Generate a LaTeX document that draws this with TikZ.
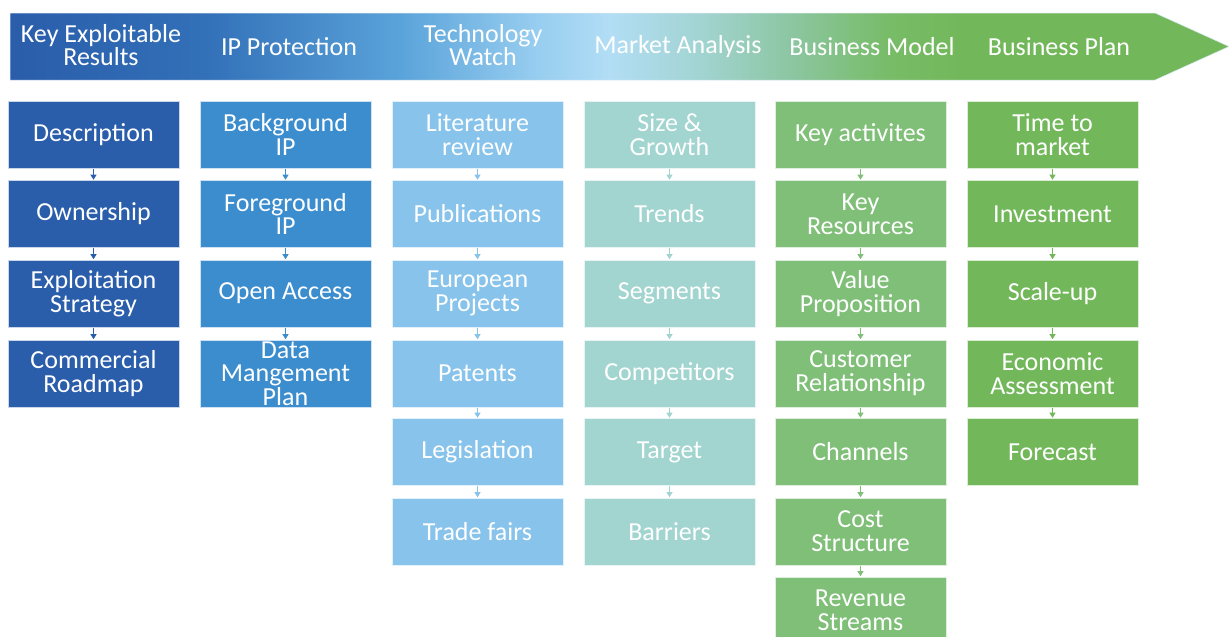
\documentclass[tikz,border=0pt]{standalone}
\usepackage{fontspec}
\setmainfont{Carlito}
\usetikzlibrary{arrows.meta}

\definecolor{cA}{HTML}{2A5DAA}
\definecolor{cB}{HTML}{3C8DCE}
\definecolor{cC}{HTML}{87C3EA}
\definecolor{cD}{HTML}{A2D5D0}
\definecolor{cE}{HTML}{7FBF78}
\definecolor{cF}{HTML}{72B85A}
% intermediate tones of the banner
\definecolor{g1}{HTML}{3270B8}
\definecolor{g2}{HTML}{5AA3DA}
\definecolor{g3}{HTML}{98CEF0}
\definecolor{g4}{HTML}{B2DDF5}
\definecolor{g5}{HTML}{A2D4D2}
\definecolor{g6}{HTML}{8CC6A2}
\definecolor{g7}{HTML}{78BC68}

% colour run of the banner, from dark blue through pale blue into green
\pgfdeclarehorizontalshading{bannershade}{100bp}{%
  color(0bp)=(cA);
  color(25bp)=(cA);
  color(33bp)=(g1);
  color(41bp)=(g2);
  color(46.7bp)=(g3);
  color(49.6bp)=(g4);
  color(53.3bp)=(g5);
  color(57bp)=(g6);
  color(61bp)=(g7);
  color(64bp)=(cF);
  color(100bp)=(cF)}

\tikzset{
  box/.style={draw=white!75!#1, line width=0.6pt, fill=#1, text=white,
    minimum width=171pt, minimum height=67pt, inner sep=0pt, align=center,
    font=\fontsize{26}{23.7}\selectfont},
  head/.style={text=white, align=center, font=\fontsize{26}{23.7}\selectfont, inner sep=0pt},
  link/.style={draw=#1, line width=0.8pt, -{Triangle[width=6pt,length=5pt]}, shorten <=0.5pt, shorten >=0.5pt}
}

\begin{document}
\begin{tikzpicture}[x=1pt,y=-1pt]
\useasboundingbox (0,0) rectangle (1229,637);

% banner arrow
\shade[shading=bannershade, draw=white!80!cB, line width=0.5pt]
  (10,13) -- (1155,13) -- (1229,46.5) -- (1155,80) -- (10,80) -- cycle;

\node[head] (h1) at (101,45)  {Key Exploitable\\Results};
\node[head] (h2) at (289,47)  {IP Protection};
\node[head] (h3) at (483,45)  {Technology\\Watch};
\node[head] (h4) at (678,47)  {Market Analysis};
\node[head] (h5) at (872,47)  {Business Model};
\node[head] (h6) at (1059,47) {Business Plan};

% column 1
\node[box=cA] (a1) at (93.5,134.5) {Description};
\node[box=cA] (a2) at (93.5,214)   {Ownership};
\node[box=cA] (a3) at (93.5,293.5) {Exploitation\\Strategy};
\node[box=cA] (a4) at (93.5,373.5) {Commercial\\Roadmap};
\draw[link=cA] (a1) -- (a2);
\draw[link=cA] (a2) -- (a3);
\draw[link=cA] (a3) -- (a4);

% column 2
\node[box=cB] (b1) at (285.5,134.5) {Background\\IP};
\node[box=cB] (b2) at (285.5,214)   {Foreground\\IP};
\node[box=cB] (b3) at (285.5,293.5) {Open Access};
\node[box=cB] (b4) at (285.5,373.5) {Data\\Mangement\\Plan};
\draw[link=cB] (b1) -- (b2);
\draw[link=cB] (b2) -- (b3);
\draw[link=cB] (b3) -- (b4);

% column 3
\node[box=cC] (c1) at (477.5,134.5) {Literature\\review};
\node[box=cC] (c2) at (477.5,214)   {Publications};
\node[box=cC] (c3) at (477.5,293.5) {European\\Projects};
\node[box=cC] (c4) at (477.5,373.5) {Patents};
\node[box=cC] (c5) at (477.5,452)   {Legislation};
\node[box=cC] (c6) at (477.5,531.5) {Trade fairs};
\draw[link=cC] (c1) -- (c2);
\draw[link=cC] (c2) -- (c3);
\draw[link=cC] (c3) -- (c4);
\draw[link=cC] (c4) -- (c5);
\draw[link=cC] (c5) -- (c6);

% column 4
\node[box=cD] (d1) at (669.5,134.5) {Size \&\\Growth};
\node[box=cD] (d2) at (669.5,214)   {Trends};
\node[box=cD] (d3) at (669.5,293.5) {Segments};
\node[box=cD] (d4) at (669.5,373.5) {Competitors};
\node[box=cD] (d5) at (669.5,452)   {Target};
\node[box=cD] (d6) at (669.5,531.5) {Barriers};
\draw[link=cD] (d1) -- (d2);
\draw[link=cD] (d2) -- (d3);
\draw[link=cD] (d3) -- (d4);
\draw[link=cD] (d4) -- (d5);
\draw[link=cD] (d5) -- (d6);

% column 5
\node[box=cE] (e1) at (860.5,134.5) {Key activites};
\node[box=cE] (e2) at (860.5,214)   {Key\\Resources};
\node[box=cE] (e3) at (860.5,293.5) {Value\\Proposition};
\node[box=cE] (e4) at (860.5,373.5) {Customer\\Relationship};
\node[box=cE] (e5) at (860.5,452)   {Channels};
\node[box=cE] (e6) at (860.5,531.5) {Cost\\Structure};
\node[box=cE] (e7) at (860.5,610.5) {Revenue\\Streams};
\draw[link=cE] (e1) -- (e2);
\draw[link=cE] (e2) -- (e3);
\draw[link=cE] (e3) -- (e4);
\draw[link=cE] (e4) -- (e5);
\draw[link=cE] (e5) -- (e6);
\draw[link=cE] (e6) -- (e7);

% column 6
\node[box=cF] (f1) at (1052.5,134.5) {Time to\\market};
\node[box=cF] (f2) at (1052.5,214)   {Investment};
\node[box=cF] (f3) at (1052.5,293.5) {Scale-up};
\node[box=cF] (f4) at (1052.5,373.5) {Economic\\Assessment};
\node[box=cF] (f5) at (1052.5,452)   {Forecast};
\draw[link=cF] (f1) -- (f2);
\draw[link=cF] (f2) -- (f3);
\draw[link=cF] (f3) -- (f4);
\draw[link=cF] (f4) -- (f5);
\end{tikzpicture}
\end{document}
